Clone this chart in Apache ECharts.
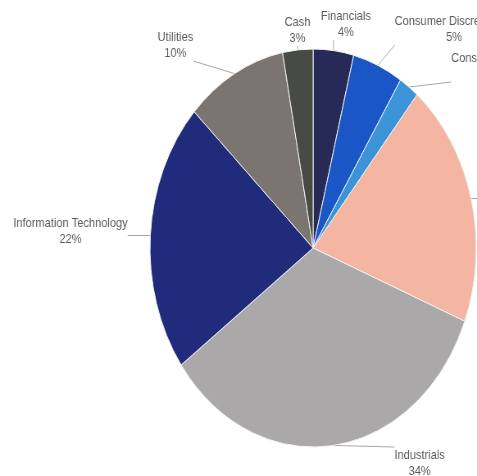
<!DOCTYPE html>
<html>
<head>
<meta charset="utf-8">
<title>Sector Allocation</title>
<script src="https://cdn.jsdelivr.net/npm/echarts@6/dist/echarts.min.js"></script>
<style>
  html, body { margin: 0; padding: 0; background: #ffffff; overflow: hidden; }
  #wrap { width: 477px; height: 476px; overflow: hidden; position: relative; }
  /* chart is drawn on a wider canvas and compressed horizontally */
  #chart { width: 582px; height: 476px; transform: scaleX(0.8196); transform-origin: 0 0; }
</style>
</head>
<body>
<div id="wrap"><div id="chart"></div></div>
<script>
// Portfolio weights by sector, in percent, clockwise from 12 o'clock
const sectors = [
  'Financials',
  'Consumer Discretionary',
  'Consumer Staples',
  'Health Care',
  'Industrials',
  'Information Technology',
  'Utilities',
  'Cash'
];
const weights = [4, 5, 2, 20, 34, 22, 10, 3];
const sliceColors = [
  '#272a56', '#1b56c6', '#3c94d8', '#f4b6a2',
  '#aaa8a9', '#212b7c', '#7b7572', '#484b45'
];

// Where each label sits (centre of its text block, canvas units)
const labelSpots = [
  [422, 24],
  [554, 29],
  [606, 66],
  [632, 198],
  [512, 463],
  [86, 231],
  [214, 45],
  [363, 30]
];

const chart = echarts.init(document.getElementById('chart'));

chart.setOption({
  animation: false,
  series: [{
    type: 'pie',
    center: [382, 248],
    radius: 199,
    startAngle: 90,
    clockwise: true,
    avoidLabelOverlap: false,
    itemStyle: { borderColor: '#f2f2f2', borderWidth: 1 },
    label: {
      show: true,
      position: 'outside',
      formatter: '{b}\n{c}%',
      color: '#5a5a5a',
      fontFamily: 'Liberation Sans, Arial, sans-serif',
      fontSize: 13.5,
      lineHeight: 16
    },
    labelLine: {
      show: true,
      length: 10,
      length2: 10,
      lineStyle: { color: '#a6a6a6', width: 1 }
    },
    labelLayout: function (params) {
      const spot = labelSpots[params.dataIndex];
      const w = params.labelRect.width;
      const h = params.labelRect.height;
      const left = spot[0] - w / 2, right = spot[0] + w / 2;
      const top = spot[1] - h / 2, bottom = spot[1] + h / 2;
      const start = params.labelLinePoints[0];
      // connect the slice edge to the closest point of the text block
      const end = [
        Math.min(Math.max(start[0], left), right),
        Math.min(Math.max(start[1], top), bottom)
      ];
      return {
        x: spot[0],
        y: spot[1],
        align: 'center',
        verticalAlign: 'middle',
        labelLinePoints: [start, end, end]
      };
    },
    data: sectors.map(function (name, i) {
      return { name: name, value: weights[i], itemStyle: { color: sliceColors[i] } };
    })
  }]
});
</script>
</body>
</html>
